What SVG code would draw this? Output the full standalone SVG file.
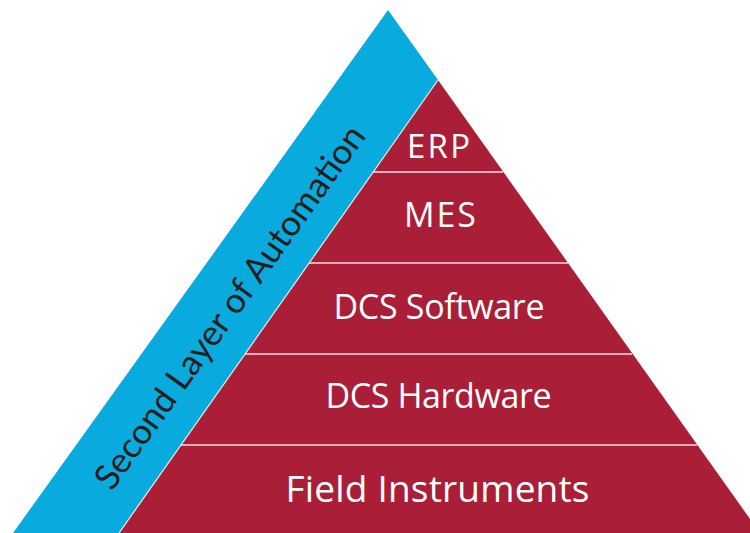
<svg xmlns="http://www.w3.org/2000/svg" width="750" height="533" viewBox="0 0 750 533">
  <style>
    .lbl { font-family: "Open Sans", "Liberation Sans", sans-serif; fill: #ffffff; text-anchor: middle; }
    .band { font-family: "Lato", "DejaVu Sans", sans-serif; fill: #231f20; }
    .div { stroke: #f4dfe3; stroke-width: 1.5; }
  </style>
  <rect width="750" height="533" fill="#ffffff"/>
  <g id="automation-band">
    <polygon points="388,10 438,80 119,533 13,533" fill="#09abdf"/>
    <text class="band" x="112" y="492" font-size="35" textLength="438" lengthAdjust="spacingAndGlyphs" transform="rotate(-54.4 112 492)">Second Layer of Automation</text>
  </g>
  <g id="pyramid">
    <polygon points="438,80 760,533 119,533" fill="#ab1e37"/>
    <line x1="438" y1="80" x2="119" y2="533" stroke="#e8eef2" stroke-width="1.2"/>
  </g>
  <g id="dividers">
    <line class="div" x1="373" y1="172" x2="503" y2="172"/>
    <line class="div" x1="309" y1="263" x2="568" y2="263"/>
    <line class="div" x1="245" y1="354" x2="632" y2="354"/>
    <line class="div" x1="181" y1="445" x2="697" y2="445"/>
  </g>
  <g id="erp"><text class="lbl" x="438.5" y="158" font-size="33" textLength="63">ERP</text></g>
  <g id="mes"><text class="lbl" x="440" y="227" font-size="34" textLength="72">MES</text></g>
  <g id="dcs-software"><text class="lbl" x="439" y="319" font-size="34" textLength="211">DCS Software</text></g>
  <g id="dcs-hardware"><text class="lbl" x="438.5" y="408" font-size="34" textLength="226">DCS Hardware</text></g>
  <g id="field-instruments"><text class="lbl" x="437.5" y="502" font-size="37" textLength="304">Field Instruments</text></g>
</svg>
